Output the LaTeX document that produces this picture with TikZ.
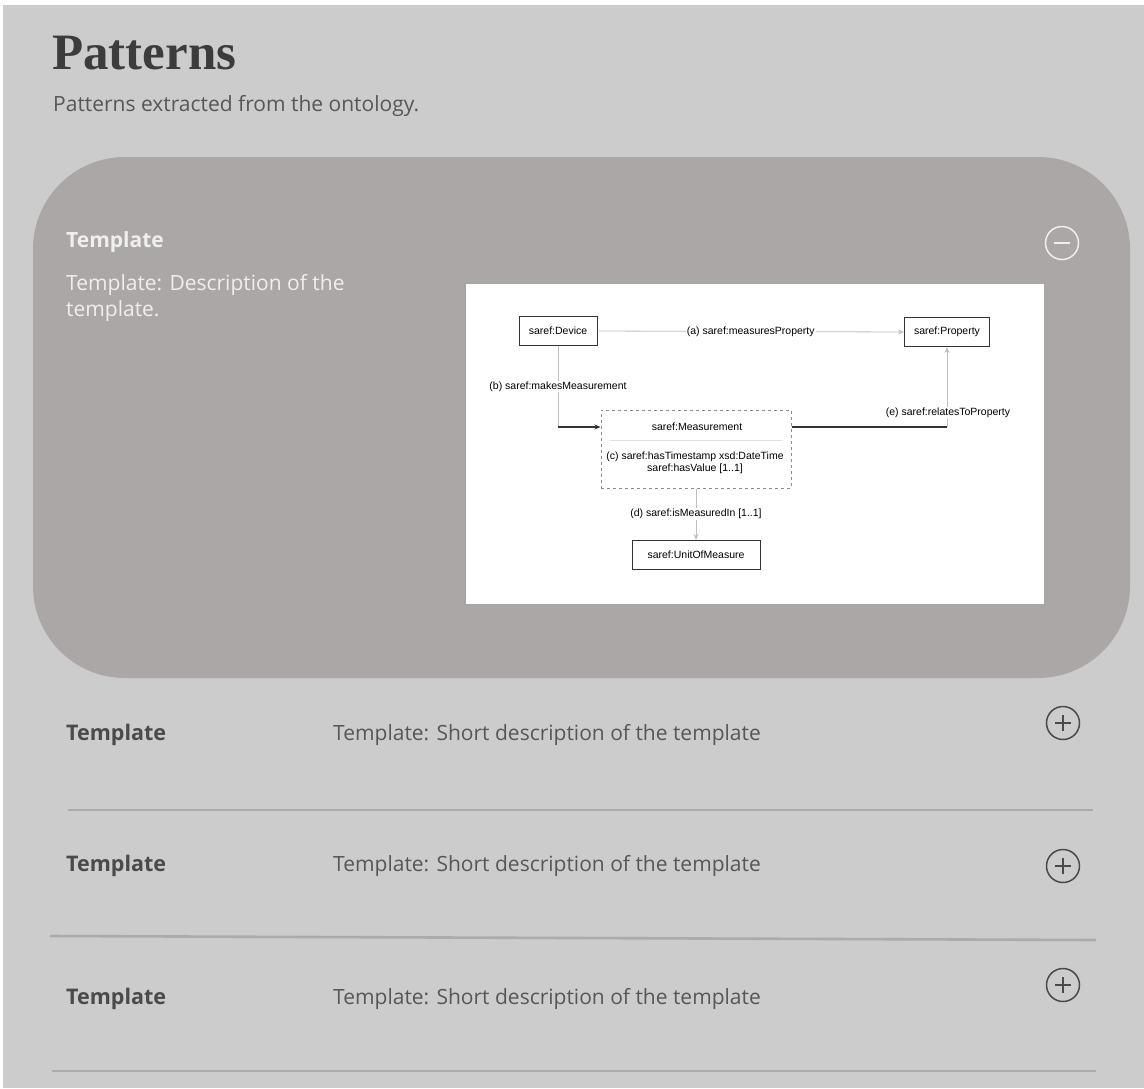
\documentclass[tikz,border=0pt]{standalone}
\usepackage{fontspec}
\setmainfont{Open Sans}
\newfontfamily\headfont{Liberation Serif}
\newfontfamily\smallfont{Liberation Sans}
\usetikzlibrary{arrows.meta}
\definecolor{pagebg}{HTML}{CCCCCC}
\definecolor{cardbg}{HTML}{ABA7A6}
\definecolor{headink}{HTML}{3C3C3C}
\definecolor{bodyink}{HTML}{575757}
\definecolor{rowink}{HTML}{4A4A4A}
\definecolor{lightink}{HTML}{EFEFEF}
\definecolor{rule}{HTML}{ABABAB}
\tikzset{
  rowtitle/.style={anchor=west, inner sep=0pt, text=rowink, font=\bfseries\fontsize{21.5}{24}\selectfont},
  rowdesc/.style={anchor=west, inner sep=0pt, text=bodyink, font=\fontsize{21}{24}\selectfont},
  rowsep/.style={draw=rule, line width=2.6pt},
  toggle/.style={circle, draw=#1, line width=1.5pt, minimum size=33pt, inner sep=0pt},
  dfont/.style={font=\smallfont\fontsize{10.5}{12.5}\selectfont},
  cls/.style={draw=black!80, line width=1pt, fill=white, inner sep=3pt, minimum height=29pt, dfont},
  lbl/.style={fill=white, inner sep=1pt, dfont},
  rel/.style={draw=black!25, line width=0.8pt},
  tip/.style={-{Stealth[length=6pt,width=5pt]}}
}
\begin{document}
\begin{tikzpicture}[x=1pt, y=-1pt]
  % page
  \fill[white] (0,0) rectangle (1144,1088);
  \fill[pagebg] (3,5) rectangle (1144,1088);
  \useasboundingbox (0,0) rectangle (1144,1088);

  % heading
  \node[anchor=base west, inner sep=0pt, text=headink, font=\headfont\bfseries\fontsize{51}{55}\selectfont]
    (title) at (52,69) {Patterns};
  \node[anchor=west, inner sep=0pt, text=bodyink, font=\fontsize{21}{24}\selectfont]
    (subtitle) at (53,106) {Patterns extracted from the ontology.};

  % expanded card
  \fill[cardbg, rounded corners=92pt] (33,157) rectangle (1130,678);
  \node[anchor=west, inner sep=0pt, text=lightink, font=\bfseries\fontsize{21}{24}\selectfont]
    (cardtitle) at (66,242) {Template};
  \node[anchor=north west, inner sep=0pt, text=lightink, align=left, font=\fontsize{21}{26}\selectfont]
    (carddesc) at (66,274) {Template: Description of the\\template.};
  \node[toggle=lightink] (minus) at (1062,243) {};
  \draw[lightink, line width=1.5pt] ([xshift=-8pt]minus.center) -- ([xshift=8pt]minus.center);

  % embedded pattern diagram
  \fill[white] (465,283) rectangle (1045,605);
  \draw[black!35, line width=2pt] (465,283) rectangle (1045,605);

  \node[cls, minimum width=78pt] (dev) at (558,331) {saref:Device};
  \node[cls, minimum width=85pt] (prop) at (947,332) {saref:Property};
  \node[cls, draw=black!45, dashed, minimum width=190pt, minimum height=78pt] (meas) at (696,449) {};
  \node[dfont, inner sep=0pt] (meastitle) at (697,427) {saref:Measurement};
  \draw[black!12, line width=0.6pt] (610,440) -- (782,440);
  \node[dfont, align=center, inner sep=0pt] (measattr) at (695,463)
    {(c) saref:hasTimestamp xsd:DateTime\\saref:hasValue [1..1]};
  \node[cls, minimum width=128pt] (unit) at (696,555) {saref:UnitOfMeasure};

  % relations
  \draw[rel, tip] (dev.east) -- node[lbl] {(a) saref:measuresProperty} (prop.west);
  \draw[rel] (dev.south) -- node[lbl] {(b) saref:makesMeasurement} (558,427);
  \draw[black!80, line width=1.2pt, tip] (558,427) -- (meas.west |- meastitle);
  \coordinate (bend) at (947,427);
  \draw[black!80, line width=1.2pt] (meas.east |- meastitle) -- (bend);
  \draw[rel, tip] (bend) -- (prop.south);
  \node[lbl, anchor=south] (elbl) at (948,419) {(e) saref:relatesToProperty};
  \draw[rel, tip] (meas.south) -- node[lbl] {(d) saref:isMeasuredIn [1..1]} (unit.north);

  % collapsed rows
  \node[rowtitle] (r1t) at (66,735) {Template};
  \node[rowdesc]  (r1d) at (333,735) {Template: Short description of the template};
  \node[toggle=rowink] (r1p) at (1063,723) {};
  \draw[rowink, line width=1.5pt] ([xshift=-8pt]r1p.center) -- ([xshift=8pt]r1p.center)
                                 ([yshift=-8pt]r1p.center) -- ([yshift=8pt]r1p.center);
  \draw[rowsep] (68,810) -- (1093,810);

  \node[rowtitle] (r2t) at (66,866) {Template};
  \node[rowdesc]  (r2d) at (333,866) {Template: Short description of the template};
  \node[toggle=rowink] (r2p) at (1063,866) {};
  \draw[rowink, line width=1.5pt] ([xshift=-8pt]r2p.center) -- ([xshift=8pt]r2p.center)
                                 ([yshift=-8pt]r2p.center) -- ([yshift=8pt]r2p.center);
  \draw[rowsep] (50,936) -- (1096,940);

  \node[rowtitle] (r3t) at (66,999) {Template};
  \node[rowdesc]  (r3d) at (333,999) {Template: Short description of the template};
  \node[toggle=rowink] (r3p) at (1063,985) {};
  \draw[rowink, line width=1.5pt] ([xshift=-8pt]r3p.center) -- ([xshift=8pt]r3p.center)
                                 ([yshift=-8pt]r3p.center) -- ([yshift=8pt]r3p.center);
  \draw[rowsep] (52,1071) -- (1096,1071);
\end{tikzpicture}
\end{document}
